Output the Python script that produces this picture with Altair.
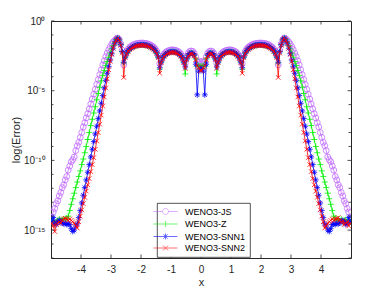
import numpy as np
import pandas as pd
import altair as alt

methods = ["WENO3-JS", "WENO3-Z", "WENO3-SNN1", "WENO3-SNN2"]
colors = ["#C06AFF", "#00F000", "#0000FF", "#FF0000"]

# cell centres of the 200-cell grid on [-5, 5]
x_grid = np.round(np.linspace(-4.975, 4.975, 200), 3)

# log10(error)
log_err_js = [
-14.1,-13.7,-13.45,-13.1,-12.9,-12.55,-12.3,-11.95,-11.75,-11.4,
-11.15,-10.7,-10.4,-10.1,-9.95,-9.75,-9.3,-8.95,-8.7,-8.35,
-8.0,-7.6,-7.3,-6.95,-6.65,-6.3,-5.95,-5.6,-5.25,-4.9,
-4.55,-4.2,-3.85,-3.5,-3.15,-2.85,-2.55,-2.3,-2.05,-1.85,
-1.65,-1.5,-1.38,-1.28,-1.22,-1.35,-1.65,-2.1,-3.15,-2.46,
-2.17,-2.0,-1.88,-1.8,-1.73,-1.68,-1.64,-1.61,-1.6,-1.58,
-1.58,-1.58,-1.6,-1.61,-1.64,-1.68,-1.73,-1.8,-1.88,-2.0,
-2.17,-2.46,-3.05,-2.81,-2.51,-2.35,-2.24,-2.17,-2.12,-2.09,
-2.07,-2.07,-2.09,-2.12,-2.17,-2.24,-2.35,-2.51,-2.81,-3.05,
-2.57,-2.3,-2.18,-2.15,-2.18,-2.3,-2.57,-2.95,-2.95,-2.9,
-2.9,-2.95,-2.95,-2.57,-2.3,-2.18,-2.15,-2.18,-2.3,-2.57,
-3.05,-2.81,-2.51,-2.35,-2.24,-2.17,-2.12,-2.09,-2.07,-2.07,
-2.09,-2.12,-2.17,-2.24,-2.35,-2.51,-2.81,-3.05,-2.46,-2.17,
-2.0,-1.88,-1.8,-1.73,-1.68,-1.64,-1.61,-1.6,-1.58,-1.58,
-1.58,-1.6,-1.61,-1.64,-1.68,-1.73,-1.8,-1.88,-2.0,-2.17,
-2.46,-3.15,-2.1,-1.65,-1.35,-1.22,-1.28,-1.38,-1.5,-1.65,
-1.85,-2.05,-2.3,-2.55,-2.85,-3.15,-3.5,-3.85,-4.2,-4.55,
-4.9,-5.25,-5.6,-5.95,-6.3,-6.65,-6.95,-7.3,-7.6,-8.0,
-8.35,-8.7,-8.95,-9.3,-9.75,-9.95,-10.1,-10.4,-10.7,-11.15,
-11.4,-11.75,-11.95,-12.3,-12.55,-12.9,-13.1,-13.45,-13.7,-14.1]

log_err_z = [
-14.4,-14.3,-14.5,-14.4,-14.3,-14.2,-14.3,-14.25,-14.2,-14.2,
-14.15,-14.0,-13.6,-13.15,-12.75,-12.35,-11.95,-11.55,-11.15,-10.75,
-10.3,-9.9,-9.45,-9.0,-8.5,-8.0,-7.5,-7.05,-6.6,-6.15,
-5.65,-5.2,-4.75,-4.3,-3.9,-3.55,-3.2,-2.9,-2.6,-2.3,
-2.0,-1.75,-1.52,-1.33,-1.23,-1.36,-1.7,-2.2,-3.0,-2.6,
-2.31,-2.14,-2.02,-1.94,-1.87,-1.82,-1.78,-1.75,-1.74,-1.72,
-1.72,-1.72,-1.74,-1.75,-1.78,-1.82,-1.87,-1.94,-2.02,-2.14,
-2.31,-2.6,-3.45,-2.94,-2.64,-2.48,-2.37,-2.3,-2.25,-2.22,
-2.2,-2.2,-2.22,-2.25,-2.3,-2.37,-2.48,-2.64,-2.94,-3.8,
-2.72,-2.45,-2.33,-2.3,-2.33,-2.45,-2.72,-3.25,-3.2,-3.25,
-3.25,-3.2,-3.25,-2.72,-2.45,-2.33,-2.3,-2.33,-2.45,-2.72,
-3.8,-2.94,-2.64,-2.48,-2.37,-2.3,-2.25,-2.22,-2.2,-2.2,
-2.22,-2.25,-2.3,-2.37,-2.48,-2.64,-2.94,-3.45,-2.6,-2.31,
-2.14,-2.02,-1.94,-1.87,-1.82,-1.78,-1.75,-1.74,-1.72,-1.72,
-1.72,-1.74,-1.75,-1.78,-1.82,-1.87,-1.94,-2.02,-2.14,-2.31,
-2.6,-3.0,-2.2,-1.7,-1.36,-1.23,-1.33,-1.52,-1.75,-2.0,
-2.3,-2.6,-2.9,-3.2,-3.55,-3.9,-4.3,-4.75,-5.2,-5.65,
-6.15,-6.6,-7.05,-7.5,-8.0,-8.5,-9.0,-9.45,-9.9,-10.3,
-10.75,-11.15,-11.55,-11.95,-12.35,-12.75,-13.15,-13.6,-14.0,-14.15,
-14.3,-14.2,-14.35,-14.2,-14.4,-14.3,-14.25,-14.45,-14.3,-14.4]

log_err_snn1 = [
-14.4,-14.1,-14.5,-14.6,-14.4,-14.3,-14.35,-14.5,-14.55,-14.5,
-14.6,-14.55,-14.6,-14.9,-15.1,-15.0,-14.7,-14.55,-14.1,-13.6,
-13.05,-12.5,-11.95,-11.4,-10.85,-10.3,-9.75,-9.2,-8.65,-8.1,
-7.55,-7.0,-6.45,-5.9,-5.35,-4.8,-4.25,-3.75,-3.25,-2.8,
-2.35,-1.95,-1.6,-1.37,-1.23,-1.36,-1.7,-2.2,-2.95,-2.58,
-2.29,-2.12,-2.0,-1.92,-1.85,-1.8,-1.76,-1.73,-1.72,-1.7,
-1.7,-1.7,-1.72,-1.73,-1.76,-1.8,-1.85,-1.92,-2.0,-2.12,
-2.29,-2.58,-3.35,-2.94,-2.64,-2.48,-2.37,-2.3,-2.25,-2.22,
-2.2,-2.2,-2.22,-2.25,-2.3,-2.37,-2.48,-2.64,-2.94,-3.3,
-2.72,-2.45,-2.33,-2.3,-2.33,-2.45,-3.1,-5.3,-3.6,-3.4,
-3.4,-3.6,-5.3,-3.1,-2.45,-2.33,-2.3,-2.33,-2.45,-2.72,
-3.3,-2.94,-2.64,-2.48,-2.37,-2.3,-2.25,-2.22,-2.2,-2.2,
-2.22,-2.25,-2.3,-2.37,-2.48,-2.64,-2.94,-3.35,-2.58,-2.29,
-2.12,-2.0,-1.92,-1.85,-1.8,-1.76,-1.73,-1.72,-1.7,-1.7,
-1.7,-1.72,-1.73,-1.76,-1.8,-1.85,-1.92,-2.0,-2.12,-2.29,
-2.58,-2.95,-2.2,-1.7,-1.36,-1.23,-1.37,-1.6,-1.95,-2.35,
-2.8,-3.25,-3.75,-4.25,-4.8,-5.35,-5.9,-6.45,-7.0,-7.55,
-8.1,-8.65,-9.2,-9.75,-10.3,-10.85,-11.4,-11.95,-12.5,-13.05,
-13.6,-14.1,-14.55,-14.7,-15.0,-15.1,-14.9,-14.6,-14.55,-14.6,
-14.5,-14.55,-14.5,-14.35,-14.3,-14.4,-14.6,-14.5,-14.1,-14.4]

log_err_snn2 = [
-14.5,-14.7,-15.1,-14.6,-14.5,-14.4,-14.5,-14.3,-14.2,-14.15,
-14.2,-14.3,-14.2,-14.3,-14.4,-14.5,-14.7,-14.85,-14.4,-14.0,
-13.55,-13.1,-12.65,-12.2,-11.75,-11.3,-10.8,-10.3,-9.8,-9.2,
-8.6,-8.0,-7.4,-6.75,-6.1,-5.45,-4.8,-4.15,-3.5,-2.9,
-2.4,-1.95,-1.6,-1.37,-1.24,-1.38,-1.75,-2.3,-4.05,-2.63,
-2.34,-2.17,-2.05,-1.97,-1.9,-1.85,-1.81,-1.78,-1.77,-1.75,
-1.75,-1.75,-1.77,-1.78,-1.81,-1.85,-1.9,-1.97,-2.05,-2.17,
-2.34,-2.63,-3.75,-2.99,-2.69,-2.53,-2.42,-2.35,-2.3,-2.27,
-2.25,-2.25,-2.27,-2.3,-2.35,-2.42,-2.53,-2.69,-2.99,-3.4,
-2.77,-2.5,-2.38,-2.35,-2.38,-2.5,-2.77,-3.25,-3.35,-3.55,
-3.55,-3.35,-3.25,-2.77,-2.5,-2.38,-2.35,-2.38,-2.5,-2.77,
-3.4,-2.99,-2.69,-2.53,-2.42,-2.35,-2.3,-2.27,-2.25,-2.25,
-2.27,-2.3,-2.35,-2.42,-2.53,-2.69,-2.99,-3.75,-2.63,-2.34,
-2.17,-2.05,-1.97,-1.9,-1.85,-1.81,-1.78,-1.77,-1.75,-1.75,
-1.75,-1.77,-1.78,-1.81,-1.85,-1.9,-1.97,-2.05,-2.17,-2.34,
-2.63,-4.05,-2.3,-1.75,-1.38,-1.24,-1.37,-1.6,-1.95,-2.4,
-2.9,-3.5,-4.15,-4.8,-5.45,-6.1,-6.75,-7.4,-8.0,-8.6,
-9.2,-9.8,-10.3,-10.8,-11.3,-11.75,-12.2,-12.65,-13.1,-13.55,
-14.0,-14.4,-14.85,-14.7,-14.5,-14.4,-14.3,-14.2,-14.3,-14.2,
-14.2,-14.1,-14.3,-14.45,-14.35,-14.6,-14.5,-14.4,-14.7,-14.5]

x_ticks = [-4, -3, -2, -1, 0, 1, 2, 3, 4]
y_major = [1e0, 1e-5, 1e-10, 1e-15]
y_minor = [1e-1, 1e-2, 1e-3, 1e-4, 1e-6, 1e-7, 1e-8, 1e-9, 1e-11, 1e-12,
           1e-13, 1e-14, 1e-16, 1e-17]

# marker glyphs (MATLAB o, +, *, x)
marker_paths = [
    "circle",
    "M-1,0L1,0M0,-1L0,1",
    "M-1,0L1,0M0,-1L0,1M-0.72,-0.72L0.72,0.72M-0.72,0.72L0.72,-0.72",
    "M-0.85,-0.85L0.85,0.85M-0.85,0.85L0.85,-0.85",
]
legend_paths = [
    "M-4,0L-1,0M1,0L4,0M-1,0A1,1,0,1,1,1,0A1,1,0,1,1,-1,0",
    "M-4,0L4,0M0,-1L0,1",
    "M-4,0L4,0M0,-1L0,1M-0.72,-0.72L0.72,0.72M-0.72,0.72L0.72,-0.72",
    "M-4,0L4,0M-0.85,-0.85L0.85,0.85M-0.85,0.85L0.85,-0.85",
]
marker_sizes = [34, 36, 34, 28]

FONT = "Liberation Sans"
AX = "#262626"

xs = alt.Scale(domain=[-5, 5], nice=False, zero=False)
ys = alt.Scale(type="log", domain=[1e-17, 1], nice=False)

ylab = ("datum.value == 1 ? '10⁰' : datum.value == 1e-5 ? '10⁻⁵' : "
        "datum.value == 1e-10 ? '10⁻¹⁰' : datum.value == 1e-15 ? '10⁻¹⁵' : ''")

x_axis = alt.Axis(values=x_ticks, labelExpr="'' + datum.value", ticks=False,
                  domain=False, grid=False, labelFont=FONT, labelFontSize=10,
                  labelColor=AX, labelPadding=6, title="x", titleFont=FONT,
                  titleFontSize=11, titleFontWeight="normal", titleColor=AX,
                  titleY=27.3, titleBaseline="alphabetic")
y_axis = alt.Axis(values=y_major, labelExpr=ylab, ticks=False, domain=False,
                  grid=False, labelFont=FONT, labelFontSize=10, labelColor=AX,
                  labelPadding=6, labelOverlap=False, labelBound=False,
                  labelFlush=False, title="log(Error)", titleFont=FONT,
                  titleFontSize=11, titleFontWeight="normal", titleColor=AX,
                  titleX=-35, titleY=118.5, titleAngle=270,
                  titleAlign="center", titleBaseline="middle")

series_logs = [log_err_js, log_err_z, log_err_snn1, log_err_snn2]
layers = []
for i, (name, logs) in enumerate(zip(methods, series_logs)):
    df = pd.DataFrame({"x": x_grid, "err": np.power(10.0, np.array(logs)),
                       "method": name})
    first = i == 0
    line = alt.Chart(df).mark_line(color=colors[i], strokeWidth=0.8, clip=True).encode(
        x=alt.X("x:Q", scale=xs, axis=x_axis if first else None),
        y=alt.Y("err:Q", scale=ys, axis=y_axis if first else None),
    )
    pts = alt.Chart(df).mark_point(shape=marker_paths[i], size=marker_sizes[i],
                                   filled=False, color=colors[i], strokeWidth=0.8,
                                   opacity=1, clip=True).encode(
        x=alt.X("x:Q", scale=xs, axis=None),
        y=alt.Y("err:Q", scale=ys, axis=None),
    )
    layers += [line, pts]

# inward ticks on all four sides
xt = pd.DataFrame({"xt": x_ticks})
ymaj = pd.DataFrame({"yt": y_major})
ymin = pd.DataFrame({"yt": y_minor})
rule = dict(color=AX, strokeWidth=0.8)
layers += [
    alt.Chart(xt).mark_rule(**rule).encode(
        x=alt.X("xt:Q", scale=xs, axis=None), y=alt.value(237), y2=alt.value(233.5)),
    alt.Chart(xt).mark_rule(**rule).encode(
        x=alt.X("xt:Q", scale=xs, axis=None), y=alt.value(0), y2=alt.value(3.5)),
    alt.Chart(ymaj).mark_rule(**rule).encode(
        y=alt.Y("yt:Q", scale=ys, axis=None), x=alt.value(0), x2=alt.value(3.5)),
    alt.Chart(ymaj).mark_rule(**rule).encode(
        y=alt.Y("yt:Q", scale=ys, axis=None), x=alt.value(296.5), x2=alt.value(300)),
    alt.Chart(ymin).mark_rule(**rule).encode(
        y=alt.Y("yt:Q", scale=ys, axis=None), x=alt.value(0), x2=alt.value(2.5)),
    alt.Chart(ymin).mark_rule(**rule).encode(
        y=alt.Y("yt:Q", scale=ys, axis=None), x=alt.value(297.5), x2=alt.value(300)),
]

# legend (line + marker symbols)
leg = alt.Legend(title=None, orient="none", legendX=106, legendY=182,
                 fillColor="white", strokeColor=AX, padding=4,
                 labelFont=FONT, labelFontSize=9, labelColor="black",
                 symbolSize=36, symbolStrokeWidth=0.8, labelOffset=15,
                 rowPadding=1.5)
leg_df = pd.DataFrame({"method": methods})
legend_layer = alt.Chart(leg_df).mark_point(filled=False, size=36, strokeWidth=0.8,
                                             clip=True).encode(
    x=alt.value(-1000), y=alt.value(-1000),
    color=alt.Color("method:N", scale=alt.Scale(domain=methods, range=colors), legend=leg),
    shape=alt.Shape("method:N", scale=alt.Scale(domain=methods, range=legend_paths), legend=leg),
)
layers.append(legend_layer)

chart = alt.layer(*layers).resolve_axis(x="independent", y="independent").properties(
    width=300, height=237,
    autosize=alt.AutoSizeParams(type="none"),
    padding={"left": 43, "top": 13, "right": 20, "bottom": 30},
    background="white",
).configure_view(stroke=AX, strokeWidth=1).configure_legend(strokeWidth=0.8)

chart.save("out.html", embed_options={"renderer": "svg", "actions": False})
